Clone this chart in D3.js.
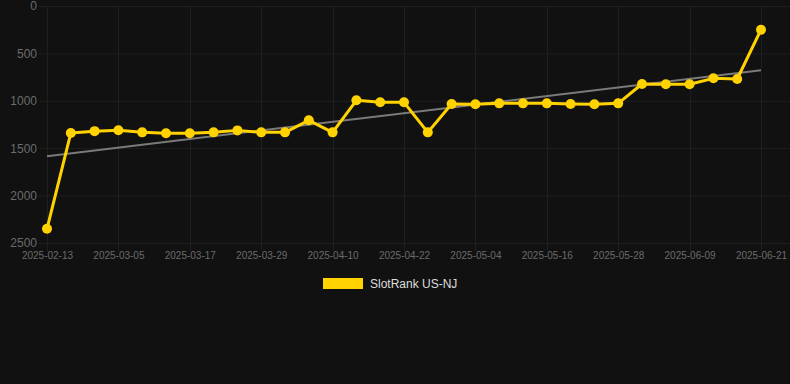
<!DOCTYPE html>
<html>
<head>
<meta charset="utf-8">
<script src="https://cdn.jsdelivr.net/npm/d3@7"></script>
<style>
  html, body { margin: 0; padding: 0; background: #111111; }
  svg { display: block; font-family: "Liberation Sans", Arial, sans-serif; }
</style>
</head>
<body>
<div id="chart"></div>
<script>
// data
const dates = [
    '2025-02-13', '2025-02-25', '2025-03-01', '2025-03-05', '2025-03-09', '2025-03-13',
    '2025-03-17', '2025-03-21', '2025-03-25', '2025-03-29', '2025-04-02', '2025-04-06',
    '2025-04-10', '2025-04-14', '2025-04-18', '2025-04-22', '2025-04-26', '2025-04-30',
    '2025-05-04', '2025-05-08', '2025-05-12', '2025-05-16', '2025-05-20', '2025-05-24',
    '2025-05-28', '2025-06-01', '2025-06-05', '2025-06-09', '2025-06-13', '2025-06-17',
    '2025-06-21',
];
const ranks = [
    2350, 1340, 1320, 1310, 1333, 1343, 1343, 1333, 1312, 1333, 1333, 1206,
    1333, 995, 1016, 1016, 1333, 1034, 1037, 1027, 1027, 1027, 1034, 1037,
    1027, 823, 826, 826, 763, 770, 250,
];
const yTicks = [0, 500, 1000, 1500, 2000, 2500];
const seriesName = 'SlotRank US-NJ';

const width = 790;
const height = 384;
const plot = { left: 47, right: 761, top: 6, bottom: 243 };
const fontColour = '#6b6b6b';
const gridColour = '#1f1f1f';
const lineColour = '#FFD200';

const svg = d3
    .select('#chart')
    .append('svg')
    .attr('width', width)
    .attr('height', height);

const x = d3.scalePoint().domain(dates).range([plot.left, plot.right]);
const y = d3.scaleLinear().domain([0, 2500]).range([plot.top, plot.bottom]);

// horizontal grid
svg.append('g')
    .selectAll('line')
    .data(yTicks)
    .join('line')
    .attr('x1', plot.left - 8)
    .attr('x2', width)
    .attr('y1', (d) => y(d) + 0.5)
    .attr('y2', (d) => y(d) + 0.5)
    .attr('stroke', gridColour);

// vertical grid at labelled dates
const xLabels = dates.filter((d, i) => i % 3 === 0);
svg.append('g')
    .selectAll('line')
    .data(xLabels)
    .join('line')
    .attr('x1', (d) => Math.round(x(d)) + 0.5)
    .attr('x2', (d) => Math.round(x(d)) + 0.5)
    .attr('y1', plot.top)
    .attr('y2', plot.bottom + 8)
    .attr('stroke', gridColour);

// y axis
const yAxis = svg
    .append('g')
    .attr('transform', `translate(${plot.left - 10},0)`)
    .call(
        d3.axisLeft(y)
            .tickValues(yTicks)
            .tickFormat(d3.format('d'))
            .tickSize(0)
            .tickPadding(0),
    );
yAxis.select('.domain').remove();
yAxis.selectAll('text')
    .attr('fill', fontColour)
    .style('font-size', '12px')
    .style('font-family', '"Liberation Sans", Arial, sans-serif');

// x axis
const xAxis = svg
    .append('g')
    .attr('transform', `translate(0,${plot.bottom + 7})`)
    .call(d3.axisBottom(x).tickValues(xLabels).tickSize(0).tickPadding(0));
xAxis.select('.domain').remove();
xAxis.selectAll('text')
    .attr('fill', fontColour)
    .attr('dy', '0.9em')
    .style('font-size', '10px')
    .style('font-family', '"Liberation Sans", Arial, sans-serif');

// trend line (least squares over the series)
const n = ranks.length;
const meanI = (n - 1) / 2;
const meanV = d3.mean(ranks);
let num = 0;
let den = 0;
ranks.forEach((v, i) => {
    num += (i - meanI) * (v - meanV);
    den += (i - meanI) * (i - meanI);
});
const slope = num / den;
const trend = [0, n - 1].map((i) => ({ date: dates[i], value: meanV + slope * (i - meanI) }));

svg.append('path')
    .datum(trend)
    .attr('fill', 'none')
    .attr('stroke', '#7a7a7a')
    .attr('stroke-width', 2)
    .attr('d', d3.line().x((d) => x(d.date)).y((d) => y(d.value)));

// main line
const points = dates.map((d, i) => ({ date: d, value: ranks[i] }));
svg.append('path')
    .datum(points)
    .attr('fill', 'none')
    .attr('stroke', lineColour)
    .attr('stroke-width', 3)
    .attr('stroke-linejoin', 'round')
    .attr('d', d3.line().x((d) => x(d.date)).y((d) => y(d.value)));

svg.append('g')
    .selectAll('circle')
    .data(points)
    .join('circle')
    .attr('cx', (d) => x(d.date))
    .attr('cy', (d) => y(d.value))
    .attr('r', 5)
    .attr('fill', lineColour);

// legend
const legend = svg.append('g').attr('transform', 'translate(323,278)');
legend.append('rect')
    .attr('width', 40)
    .attr('height', 11)
    .attr('fill', lineColour);
legend.append('text')
    .attr('x', 47)
    .attr('y', 10)
    .attr('fill', '#dddddd')
    .style('font-size', '12px')
    .text(seriesName);
</script>
</body>
</html>
